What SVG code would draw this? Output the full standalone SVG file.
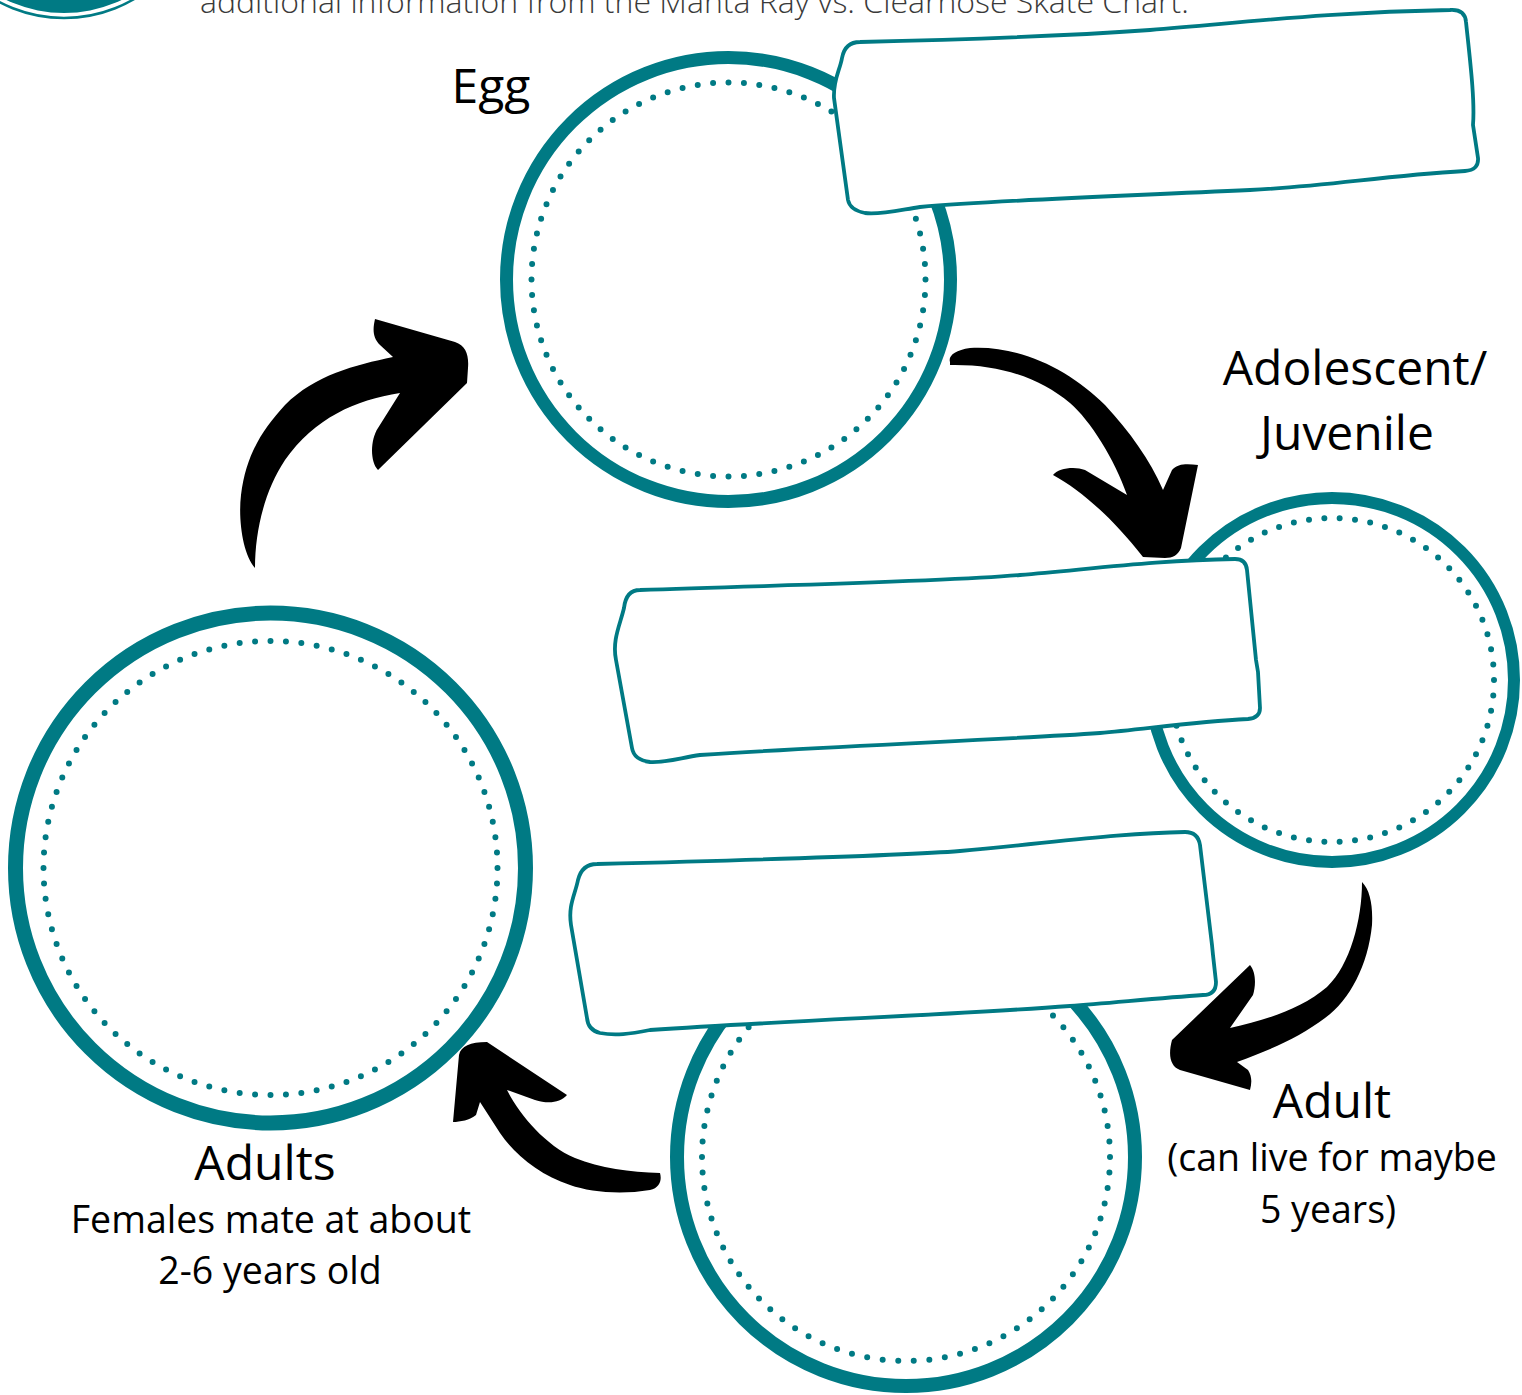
<svg xmlns="http://www.w3.org/2000/svg" width="1522" height="1395" viewBox="0 0 1522 1395">
<style>
.ring{fill:none;stroke:#007A84;}
.dots{fill:none;stroke:#007A84;stroke-width:6;stroke-linecap:round;stroke-dasharray:0 1;}
.box{fill:#fff;stroke:#007A84;stroke-width:3.8;stroke-linejoin:round;}
.arrow{fill:#000;}
.lbl{font-family:"Open Sans","Liberation Sans",sans-serif;fill:#000;text-anchor:middle;}
.big{font-size:48px;}
.small{font-size:37.5px;}
</style>
<rect width="1522" height="1395" fill="#fff"/>
<g id="header">
<circle cx="64" cy="-121" r="134" fill="#007A84"/>
<circle cx="64" cy="-121" r="139" fill="none" stroke="#007A84" stroke-width="2.5"/>
<text x="200" y="13" font-family="'Open Sans','Liberation Sans',sans-serif" font-size="32" font-weight="300" fill="#3a3a3a">additional information from the Manta Ray vs. Clearnose Skate Chart.</text>
</g>
<g id="node-egg">
<circle class="ring" cx="728.5" cy="279.5" r="222" stroke-width="13"/>
<circle class="dots" cx="728.5" cy="279.5" r="197" pathLength="80"/>
</g>
<g id="node-juvenile">
<circle class="ring" cx="1332" cy="680" r="182" stroke-width="12"/>
<circle class="dots" cx="1332" cy="680" r="162" pathLength="66"/>
</g>
<g id="node-adult">
<circle class="ring" cx="906" cy="1157" r="229" stroke-width="14"/>
<circle class="dots" cx="906" cy="1157" r="204" pathLength="82"/>
</g>
<g id="node-adults">
<circle class="ring" cx="270.5" cy="868" r="255" stroke-width="15"/>
<circle class="dots" cx="270.5" cy="868" r="227" pathLength="92"/>
</g>
<g id="connectors">
<path class="arrow" d="M255,568 C243,555 238,520 241,495 C246,455 262,430 285,405 C315,375 355,365 393,357 L380,345 C372,337 373,328 375,319 L455,342 C466,346 469,355 468,368 L467,383 L378,470 C370,462 370,440 378,428 L400,393 C355,400 315,418 285,460 C265,490 255,530 255,568 Z"/>
<path class="arrow" d="M950,362 C948,356 955,350 970,348 C1020,345 1070,370 1105,405 C1130,432 1150,460 1163,490 L1172,470 C1178,463 1188,464 1198,465 L1181,548 C1178,555 1173,558 1165,558 L1143,557 C1110,515 1080,490 1053,475 C1058,468 1075,466 1085,470 L1127,495 C1115,460 1090,420 1070,403 C1040,378 1000,364 950,365 Z"/>
<path class="arrow" d="M1362,882 C1370,890 1373,905 1372,925 C1368,965 1350,1000 1325,1018 C1300,1037 1270,1050 1237,1062 L1248,1070 C1252,1076 1252,1083 1250,1090 L1180,1070 C1170,1066 1168,1055 1172,1040 L1250,965 C1256,972 1256,985 1253,995 L1230,1028 C1265,1020 1300,1010 1327,987 C1350,965 1362,920 1362,882 Z"/>
<path class="arrow" d="M660,1173 C662,1180 660,1188 650,1190 C620,1195 590,1192 570,1185 C540,1175 515,1155 500,1133 L480,1102 L476,1115 C470,1120 460,1122 453,1122 L459,1055 C461,1046 470,1042 487,1042 L567,1095 C560,1103 548,1104 535,1100 L507,1090 C520,1115 545,1145 575,1158 C600,1168 630,1172 660,1173 Z"/>
</g>
<g id="box-egg">
<path class="box" d="M860,42 C950,40 1050,37 1150,30 C1250,22 1330,12 1450,10 Q1465,9 1466,22 C1470,60 1475,100 1473,125 L1478,158 Q1479,170 1465,171 C1380,176 1330,186 1250,190 C1100,197 1000,200 920,207 C900,210 880,215 865,213 Q850,210 848,200 L834,98 C833,80 840,70 842,58 Q845,42 860,42 Z"/>
</g>
<g id="box-juvenile">
<path class="box" d="M640,590 C780,585 940,582 1020,575 C1100,568 1160,560 1235,559 Q1246,559 1247,570 L1256,660 L1258,672 L1260,708 Q1260,718 1248,719 C1190,722 1140,730 1100,733 C1000,740 850,745 700,755 C680,758 665,763 650,762 Q634,760 632,748 L616,660 C612,640 620,625 624,608 Q626,590 640,590 Z"/>
</g>
<g id="box-adult">
<path class="box" d="M597,864 C750,860 900,856 960,851 C1050,843 1120,833 1185,832 Q1198,832 1200,845 L1212,945 L1213,955 L1216,982 Q1216,995 1203,995 C1160,998 1110,1003 1070,1006 C950,1015 800,1020 650,1030 C630,1034 615,1036 600,1033 Q588,1030 587,1018 L571,925 C568,905 575,895 578,880 Q582,864 597,864 Z"/>
</g>
<g id="labels">
<text class="lbl big" x="491" y="103">Egg</text>
<text class="lbl big" x="1355" y="385">Adolescent/</text>
<text class="lbl big" x="1347" y="450">Juvenile</text>
<text class="lbl big" x="1332" y="1118">Adult</text>
<text class="lbl small" x="1332" y="1171">(can live for maybe</text>
<text class="lbl small" x="1328" y="1223">5 years)</text>
<text class="lbl big" x="265" y="1180">Adults</text>
<text class="lbl small" x="271" y="1233">Females mate at about</text>
<text class="lbl small" x="270" y="1284">2-6 years old</text>
</g>
</svg>
